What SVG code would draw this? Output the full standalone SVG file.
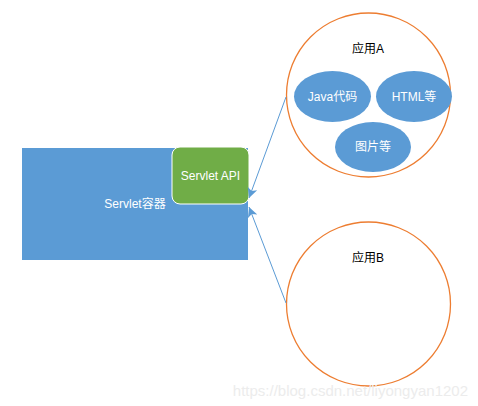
<svg xmlns="http://www.w3.org/2000/svg" width="478" height="406" viewBox="0 0 478 406">
<style>
.t{font-family:"Liberation Sans","Noto Sans CJK SC",sans-serif;font-size:12px;text-anchor:middle}
.w{fill:#ffffff}
.k{fill:#000000}
.app{fill:#ffffff;stroke:#ED7D31;stroke-width:1.3}
.ell{fill:#5B9BD5}
.conn{stroke:#5B9BD5;stroke-width:1;fill:none}
</style>
<defs>
<marker id="ah" markerWidth="12" markerHeight="12" refX="10" refY="6" orient="auto" markerUnits="userSpaceOnUse">
<path d="M0,1 L10,6 L0,11 L2.5,6 Z" fill="#5B9BD5"/>
</marker>
</defs>
<rect width="478" height="406" fill="#ffffff"/>
<g id="container">
<rect x="22" y="148" width="226" height="112" fill="#5B9BD5"/>
<text class="t w" x="135" y="208">Servlet容器</text>
</g>
<g id="servlet-api">
<rect x="172" y="147" width="77" height="57" rx="8" fill="#70AD47" stroke="#ffffff" stroke-width="1"/>
<text class="t w" x="210.5" y="180">Servlet API</text>
</g>
<g id="app-a">
<circle class="app" cx="368.5" cy="95" r="82"/>
<text class="t k" x="368" y="53">应用A</text>
</g>
<g id="java">
<ellipse class="ell" cx="332.5" cy="96.5" rx="38.5" ry="25.5"/>
<text class="t w" x="332.5" y="101">Java代码</text>
</g>
<g id="html">
<ellipse class="ell" cx="414" cy="96.5" rx="38" ry="25.5"/>
<text class="t w" x="414" y="101">HTML等</text>
</g>
<g id="images">
<ellipse class="ell" cx="373" cy="147" rx="38" ry="25"/>
<text class="t w" x="373" y="151">图片等</text>
</g>
<g id="app-b">
<circle class="app" cx="368.5" cy="304" r="82"/>
<text class="t k" x="368" y="262">应用B</text>
</g>
<g id="connectors">
<line class="conn" x1="286" y1="97" x2="249" y2="198" marker-end="url(#ah)"/>
<line class="conn" x1="286" y1="303" x2="249" y2="207" marker-end="url(#ah)"/>
</g>
<text x="468" y="396" font-family="Liberation Sans, sans-serif" font-size="15" fill="#ececec" text-anchor="end">https://blog.csdn.net/liyongyan1202</text>
</svg>
